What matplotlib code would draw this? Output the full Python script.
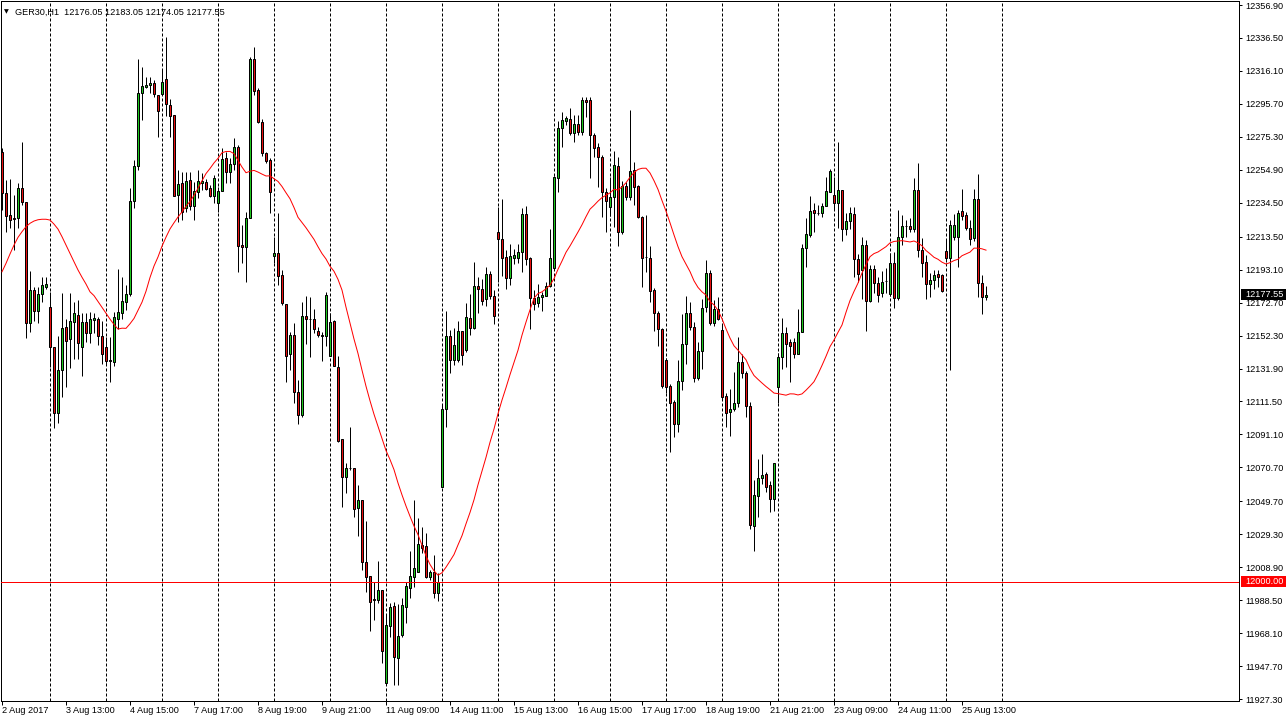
import numpy as np
import matplotlib
matplotlib.use("Agg")
import matplotlib.pyplot as plt
from matplotlib.transforms import blended_transform_factory
from matplotlib.patches import Rectangle

# ---------------- data (GER30, H1) ----------------
opens = [12266.1, 12240.3, 12226.9, 12225.2, 12224.9, 12243.4, 12234.8, 12160.3, 12180.5, 12167.7,
         12178.0, 12182.5, 12169.8, 12145.4, 12104.2, 12131.0, 12157.4, 12150.0, 12160.5, 12165.0,
         12145.4, 12160.5, 12153.7, 12161.9, 12162.4, 12152.0, 12145.0, 12137.2, 12136.1, 12162.5,
         12166.1, 12172.9, 12178.0, 12235.6, 12257.2, 12302.6, 12306.3, 12307.2, 12308.8, 12301.2,
         12301.6, 12311.1, 12295.0, 12288.8, 12239.3, 12246.5, 12231.4, 12248.6, 12232.5, 12241.3,
         12246.7, 12247.2, 12243.4, 12238.9, 12234.5, 12241.8, 12262.0, 12253.7, 12258.3, 12269.2,
         12208.3, 12207.3, 12224.9, 12323.5, 12304.3, 12284.3, 12265.1, 12261.0, 12201.7, 12203.2,
         12189.8, 12171.8, 12140.7, 12152.6, 12117.5, 12103.1, 12164.4, 12162.4, 12162.4, 12154.9,
         12152.4, 12152.2, 12139.8, 12161.3, 12133.0, 12088.1, 12064.5, 12070.1, 12070.1, 12045.4,
         12050.5, 12011.9, 12003.5, 11989.0, 11988.6, 11994.8, 11937.0, 11972.5, 11984.9, 11952.5,
         11966.9, 11984.5, 11995.8, 12002.6, 12006.1, 12022.6, 12022.0, 12003.0, 12006.1, 11992.7,
         12058.7, 12106.6, 12152.0, 12137.2, 12137.2, 12155.1, 12143.3, 12163.0, 12157.2, 12183.0,
         12180.9, 12174.7, 12190.2, 12177.0, 12216.6, 12211.9, 12200.7, 12188.1, 12200.5, 12200.5,
         12204.2, 12227.3, 12200.1, 12175.7, 12172.3, 12176.3, 12177.0, 12183.1, 12194.3, 12249.6,
         12280.6, 12285.3, 12286.2, 12277.5, 12283.2, 12278.5, 12298.1, 12298.1, 12276.4, 12268.8,
         12262.6, 12241.0, 12231.7, 12238.2, 12257.2, 12216.2, 12245.1, 12238.2, 12254.8, 12244.9,
         12225.5, 12200.7, 12200.1, 12180.5, 12166.1, 12156.2, 12137.2, 12121.1, 12111.3, 12097.5,
         12124.3, 12146.9, 12166.1, 12157.4, 12125.8, 12142.7, 12169.8, 12190.8, 12159.9, 12168.7,
         12155.7, 12114.9, 12105.2, 12106.8, 12110.4, 12135.7, 12128.9, 12108.7, 12034.6, 12053.2,
         12064.3, 12066.4, 12059.8, 12050.9, 12120.6, 12139.2, 12153.7, 12148.1, 12148.1, 12140.9,
         12154.7, 12206.3, 12214.5, 12230.0, 12228.3, 12228.0, 12232.7, 12241.3, 12239.3, 12234.2,
         12242.4, 12218.1, 12223.4, 12227.3, 12199.7, 12192.9, 12208.3, 12173.9, 12193.3, 12184.6,
         12178.4, 12186.1, 12177.8, 12197.0, 12175.4, 12213.1, 12220.1, 12220.1, 12218.1, 12242.4,
         12205.3, 12197.8, 12184.2, 12186.7, 12190.2, 12189.8, 12204.6, 12200.1, 12213.5, 12213.5,
         12229.4, 12226.9, 12219.1, 12212.9, 12236.6, 12185.0, 12176.05]
highs = [12268.4, 12248.6, 12249.2, 12239.3, 12246.5, 12271.9, 12235.0, 12192.3, 12182.5, 12182.5,
         12188.7, 12188.7, 12179.4, 12145.4, 12152.2, 12178.4, 12162.5, 12178.4, 12172.9, 12174.3,
         12166.1, 12166.1, 12167.1, 12166.4, 12164.0, 12161.3, 12151.6, 12151.6, 12166.9, 12193.5,
         12188.7, 12183.6, 12243.4, 12261.0, 12323.5, 12318.7, 12312.5, 12312.5, 12310.5, 12301.2,
         12316.7, 12337.3, 12298.7, 12288.8, 12254.8, 12253.7, 12253.7, 12253.7, 12247.5, 12254.8,
         12252.7, 12249.0, 12245.5, 12251.7, 12244.4, 12268.2, 12266.1, 12262.0, 12274.4, 12270.2,
         12220.7, 12229.0, 12324.9, 12331.1, 12305.5, 12286.2, 12266.1, 12262.2, 12213.5, 12228.3,
         12192.9, 12171.8, 12154.7, 12159.9, 12124.8, 12173.2, 12177.0, 12176.3, 12168.5, 12157.8,
         12154.7, 12179.4, 12166.1, 12161.9, 12139.6, 12088.1, 12073.6, 12095.9, 12070.1, 12059.8,
         12050.5, 12037.7, 12003.5, 11999.9, 12012.9, 11994.8, 11979.3, 11986.7, 11987.5, 11986.1,
         11989.7, 11999.9, 12018.9, 12050.5, 12039.2, 12034.0, 12030.3, 12007.2, 12016.5, 12005.1,
         12109.3, 12167.5, 12155.7, 12157.1, 12161.3, 12155.1, 12172.3, 12178.0, 12197.6, 12188.7,
         12187.1, 12194.9, 12192.3, 12180.5, 12232.1, 12236.6, 12205.3, 12209.0, 12205.9, 12209.0,
         12231.4, 12232.5, 12200.9, 12180.5, 12184.0, 12179.4, 12185.3, 12218.2, 12251.1, 12285.1,
         12290.9, 12288.4, 12293.0, 12288.8, 12288.8, 12300.0, 12300.0, 12300.0, 12277.7, 12271.3,
         12264.1, 12243.4, 12250.3, 12266.5, 12262.6, 12248.0, 12247.5, 12291.9, 12259.9, 12245.5,
         12226.3, 12226.9, 12207.9, 12181.7, 12167.5, 12157.0, 12138.4, 12122.3, 12112.4, 12137.2,
         12165.4, 12176.8, 12173.2, 12160.9, 12148.5, 12174.7, 12199.1, 12192.9, 12174.3, 12176.0,
         12158.8, 12116.7, 12119.0, 12129.9, 12151.2, 12140.9, 12130.4, 12111.3, 12062.9, 12075.7,
         12079.0, 12067.6, 12062.3, 12073.6, 12141.3, 12163.0, 12157.8, 12150.0, 12150.6, 12168.5,
         12208.8, 12224.9, 12238.7, 12234.5, 12233.1, 12234.2, 12250.6, 12255.2, 12250.6, 12272.3,
         12242.4, 12228.3, 12231.7, 12232.1, 12202.8, 12213.1, 12211.4, 12196.0, 12196.0, 12188.7,
         12192.3, 12193.9, 12203.2, 12204.2, 12230.0, 12226.9, 12223.8, 12224.9, 12250.0, 12258.9,
         12212.5, 12202.2, 12190.8, 12192.9, 12192.9, 12190.4, 12211.4, 12223.8, 12227.5, 12230.0,
         12242.8, 12229.0, 12223.8, 12242.8, 12252.1, 12189.8, 12183.05]
lows = [12230.0, 12216.6, 12218.9, 12205.3, 12218.7, 12233.1, 12150.6, 12154.3, 12161.5, 12160.3,
        12172.9, 12181.0, 12132.6, 12094.9, 12098.0, 12114.4, 12120.6, 12132.0, 12137.8, 12137.8,
        12127.4, 12148.5, 12147.5, 12153.7, 12146.4, 12134.5, 12134.1, 12123.4, 12133.6, 12156.3,
        12162.5, 12168.1, 12176.8, 12231.1, 12254.8, 12285.7, 12305.5, 12302.2, 12300.1, 12275.4,
        12301.2, 12288.2, 12275.4, 12238.9, 12222.4, 12223.8, 12229.0, 12230.0, 12223.8, 12237.3,
        12242.4, 12242.4, 12238.2, 12234.2, 12229.0, 12241.8, 12246.5, 12246.9, 12254.8, 12191.4,
        12197.0, 12185.3, 12224.9, 12301.2, 12283.7, 12263.4, 12258.9, 12228.3, 12197.0, 12183.6,
        12171.2, 12123.7, 12131.0, 12110.4, 12097.5, 12101.7, 12147.1, 12139.2, 12154.1, 12151.6,
        12136.7, 12145.8, 12139.8, 12133.4, 12086.6, 12046.4, 12054.6, 12069.1, 12040.2, 12028.4,
        12007.2, 11993.4, 11969.6, 11976.2, 11986.6, 11949.4, 11937.0, 11965.9, 11936.0, 11936.0,
        11965.7, 11974.2, 11989.7, 11996.8, 12006.1, 12017.7, 12002.2, 12001.0, 11989.7, 11988.2,
        12058.5, 12095.9, 12129.3, 12134.1, 12135.9, 12134.1, 12142.1, 12152.6, 12156.3, 12166.4,
        12171.2, 12170.8, 12174.7, 12159.4, 12185.6, 12189.3, 12181.1, 12183.6, 12196.6, 12197.0,
        12191.8, 12196.0, 12156.2, 12168.1, 12170.1, 12167.7, 12176.8, 12182.3, 12192.9, 12241.3,
        12269.2, 12282.6, 12276.4, 12272.3, 12276.4, 12276.4, 12287.8, 12249.6, 12262.6, 12244.4,
        12225.9, 12216.2, 12226.5, 12219.7, 12207.9, 12215.2, 12236.2, 12236.2, 12233.1, 12225.1,
        12182.5, 12191.8, 12172.9, 12155.3, 12146.0, 12119.8, 12116.7, 12080.4, 12089.3, 12092.4,
        12118.6, 12134.7, 12155.7, 12123.7, 12124.8, 12131.4, 12166.7, 12158.8, 12158.4, 12161.9,
        12112.4, 12095.5, 12090.3, 12105.6, 12108.3, 12125.8, 12102.1, 12032.4, 12019.1, 12040.2,
        12060.2, 12055.6, 12043.3, 12043.7, 12110.4, 12131.6, 12133.0, 12123.4, 12138.4, 12140.9,
        12154.5, 12194.5, 12213.3, 12216.6, 12226.9, 12225.5, 12232.5, 12241.2, 12230.4, 12219.1,
        12211.0, 12214.5, 12218.2, 12188.7, 12185.6, 12174.7, 12155.3, 12173.2, 12178.4, 12173.2,
        12176.3, 12178.4, 12176.8, 12169.5, 12174.3, 12208.3, 12213.1, 12216.4, 12216.4, 12200.7,
        12188.7, 12174.7, 12176.3, 12181.1, 12182.5, 12179.4, 12197.8, 12131.0, 12211.4, 12194.9,
        12223.8, 12217.6, 12208.3, 12210.8, 12176.3, 12165.4, 12174.05]
closes = [12240.3, 12226.5, 12223.8, 12224.3, 12243.4, 12234.8, 12160.3, 12180.5, 12167.7, 12178.0,
          12183.6, 12184.2, 12145.4, 12104.2, 12131.0, 12156.8, 12149.1, 12161.3, 12166.1, 12147.5,
          12160.5, 12153.7, 12162.4, 12163.0, 12152.2, 12140.7, 12136.7, 12136.5, 12163.6, 12166.7,
          12173.7, 12178.0, 12235.6, 12257.2, 12302.6, 12306.8, 12307.4, 12308.8, 12301.6, 12291.3,
          12309.1, 12295.6, 12288.4, 12238.9, 12246.1, 12229.0, 12248.0, 12232.5, 12241.8, 12248.0,
          12248.0, 12243.2, 12238.9, 12249.6, 12241.8, 12261.6, 12253.7, 12258.3, 12269.2, 12207.9,
          12206.9, 12224.9, 12323.5, 12303.9, 12284.7, 12265.1, 12260.5, 12241.0, 12203.2, 12189.3,
          12172.3, 12139.8, 12152.6, 12117.5, 12103.1, 12164.4, 12162.4, 12162.4, 12156.2, 12152.6,
          12152.2, 12177.4, 12160.9, 12133.6, 12087.2, 12064.9, 12070.1, 12070.1, 12044.7, 12050.5,
          12012.3, 12003.0, 11987.5, 11988.6, 11994.8, 11957.2, 11973.1, 11984.1, 11953.1, 11966.3,
          11985.5, 11997.3, 12003.5, 12008.2, 12023.1, 12020.8, 12003.0, 12006.1, 11992.7, 11999.9,
          12106.6, 12152.0, 12137.2, 12146.4, 12155.1, 12140.3, 12163.6, 12157.2, 12183.0, 12180.9,
          12173.9, 12190.2, 12177.0, 12164.6, 12211.9, 12200.1, 12187.7, 12201.5, 12202.2, 12204.2,
          12227.3, 12199.5, 12175.7, 12171.8, 12176.3, 12177.4, 12183.1, 12200.1, 12250.6, 12280.6,
          12285.7, 12286.8, 12277.5, 12283.2, 12278.5, 12298.1, 12296.9, 12276.4, 12268.2, 12262.6,
          12241.0, 12235.6, 12237.9, 12257.9, 12216.2, 12245.1, 12237.9, 12254.2, 12244.1, 12225.5,
          12200.1, 12200.7, 12180.1, 12166.1, 12156.2, 12121.1, 12120.3, 12110.7, 12097.5, 12124.2,
          12146.9, 12166.1, 12157.8, 12125.8, 12142.7, 12169.2, 12190.8, 12159.9, 12168.5, 12162.5,
          12114.4, 12104.5, 12106.6, 12110.4, 12135.7, 12128.9, 12108.9, 12035.0, 12053.6, 12063.9,
          12066.0, 12058.7, 12050.9, 12073.2, 12138.8, 12153.7, 12146.9, 12146.0, 12140.9, 12154.3,
          12206.3, 12215.0, 12229.4, 12228.0, 12228.3, 12232.5, 12241.8, 12254.2, 12234.2, 12242.4,
          12218.2, 12223.4, 12228.0, 12199.5, 12190.2, 12208.3, 12173.9, 12193.3, 12184.6, 12177.4,
          12185.6, 12186.1, 12197.0, 12175.7, 12213.1, 12220.1, 12220.1, 12218.1, 12242.4, 12205.3,
          12197.4, 12184.0, 12186.7, 12189.8, 12188.7, 12180.1, 12200.1, 12220.7, 12220.7, 12228.3,
          12226.5, 12219.1, 12212.1, 12236.6, 12185.0, 12176.3, 12177.55]

# moving average values read at the first 23 bars (earlier history is off-chart)
ma_head = [12191.8, 12197.0, 12202.8, 12208.3, 12213.1, 12216.6, 12219.7, 12221.8, 12223.2, 12224.0,
           12224.3, 12224.3, 12223.8, 12221.3, 12218.2, 12213.5, 12208.3, 12203.2, 12198.0, 12192.9,
           12188.4, 12184.2, 12179.4]
ma_period = 24

level_price = 12000.00
last_price = 12177.55

y_tick_values = [12356.90, 12336.50, 12316.10, 12295.70, 12275.30, 12254.90, 12234.50, 12213.50,
                 12193.10, 12172.70, 12152.30, 12131.90, 12111.50, 12091.10, 12070.70, 12049.70,
                 12029.30, 12008.90, 11988.50, 11968.10, 11947.70, 11927.30]
x_tick_labels = ["2 Aug 2017", "3 Aug 13:00", "4 Aug 15:00", "7 Aug 17:00", "8 Aug 19:00",
                 "9 Aug 21:00", "11 Aug 09:00", "14 Aug 11:00", "15 Aug 13:00", "16 Aug 15:00",
                 "17 Aug 17:00", "18 Aug 19:00", "21 Aug 21:00", "23 Aug 09:00", "24 Aug 11:00",
                 "25 Aug 13:00"]
x_label_step = 16
grid_first, grid_step = 12, 14

header = "GER30,H1  12176.05 12183.05 12174.05 12177.55"

# ---------------- drawing ----------------
W, H = 1286, 720
FONT = ["Liberation Sans", "DejaVu Sans"]
plt.rcParams["font.family"] = FONT
fs = 6.6
px = 72.0 / 100.0  # one pixel in points

o = np.array(opens); h = np.array(highs); l = np.array(lows); c = np.array(closes)
n = len(c)
x = np.arange(n)

fig = plt.figure(figsize=(W / 100, H / 100), dpi=100)
fig.patch.set_facecolor("white")
ax = fig.add_axes([1 / W, 19 / H, 1238 / W, 700 / H])
ax.set_xlim(-0.25, 309.25)
ax.set_ylim(11926.1, 12359.4)

# vertical dashed grid
grid_pos = np.arange(grid_first, 252, grid_step)
ax.vlines(grid_pos, 11926.1, 12359.4, colors="black", linewidth=px,
          linestyles=(0, (3, 2)), zorder=1)

# candles
ax.vlines(x, l, h, colors="black", linewidth=px, zorder=2)
up = c >= o
dn = ~up
ax.bar(x[up], c[up] - o[up], bottom=o[up], width=0.5, color="#1ec81e",
       edgecolor="black", linewidth=px, zorder=3)
ax.bar(x[dn], o[dn] - c[dn], bottom=c[dn], width=0.5, color="#e81010",
       edgecolor="black", linewidth=px, zorder=3)

# moving average
sma = np.convolve(c, np.ones(ma_period) / ma_period, mode="valid")
ma = np.concatenate([np.array(ma_head), sma])
ax.plot(x, ma, color="#ff0000", linewidth=px, zorder=4)

# horizontal level
ax.axhline(level_price, color="#ff0000", linewidth=px, zorder=4)

# axes styling
for s in ax.spines.values():
    s.set_linewidth(px)
    s.set_color("black")
ax.yaxis.tick_right()
ax.set_yticks(y_tick_values)
ax.set_yticklabels([f"{v:.2f}" for v in y_tick_values])
ax.tick_params(axis="y", direction="out", length=3 * px, width=px, pad=2.5, labelsize=fs)
ax.set_xticks(np.arange(0, x_label_step * len(x_tick_labels), x_label_step))
ax.set_xticklabels(x_tick_labels)
ax.tick_params(axis="x", direction="out", length=4 * px, width=px, pad=1.0, labelsize=fs)
for t in ax.get_xticklabels():
    t.set_horizontalalignment("left")

# price tags on the right scale
btr = blended_transform_factory(fig.transFigure, ax.transData)
for price, col in [(last_price, "black"), (level_price, "#ff0000")]:
    hh = 11 * 0.619
    ax.add_patch(Rectangle((1241 / W, price - hh / 2), 45 / W, hh, transform=btr,
                           facecolor=col, edgecolor="none", clip_on=False, zorder=10))
    ax.text(1245 / W, price, f"{price:.2f}", transform=btr, color="white",
            fontsize=fs, ha="left", va="center", clip_on=False, zorder=11)

# header
fig.text(4 / W, 1 - 11.5 / H, "\u25bc", fontsize=4.5, family=["DejaVu Sans"],
         ha="left", va="center", color="black")
fig.text(15 / W, 1 - 12 / H, header, fontsize=fs, ha="left", va="center", color="black")

fig.savefig("out.png", dpi=100, facecolor="white")
